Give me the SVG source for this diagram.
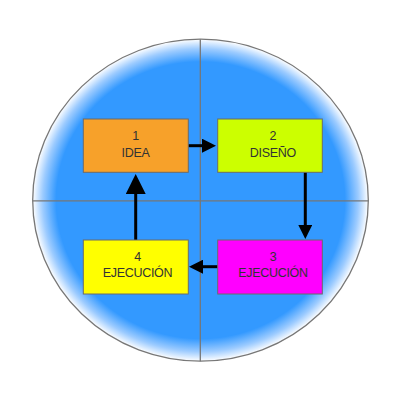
<svg xmlns="http://www.w3.org/2000/svg" width="400" height="400" viewBox="0 0 400 400">
  <defs>
    <radialGradient id="disc" cx="0.5" cy="0.5" r="0.5">
      <stop offset="0" stop-color="#3399ff"/>
      <stop offset="0.86" stop-color="#3399ff"/>
      <stop offset="0.94" stop-color="#9ccbff"/>
      <stop offset="1" stop-color="#ffffff"/>
    </radialGradient>
    <marker id="head" markerUnits="userSpaceOnUse" markerWidth="14" markerHeight="14" refX="1" refY="7" orient="auto" viewBox="0 0 14 14">
      <path d="M0,0 L14,7 L0,14 z" fill="#000"/>
    </marker>
    <marker id="headL" markerUnits="userSpaceOnUse" markerWidth="20" markerHeight="20" refX="1" refY="10" orient="auto" viewBox="0 0 20 20">
      <path d="M0,0 L20,10 L0,20 z" fill="#000"/>
    </marker>
    <style>
      .box { stroke: #6b6b6b; stroke-width: 1; }
      .lbl { font-family: "Liberation Sans", Arial, sans-serif; font-size: 12.5px; letter-spacing: -0.3px; fill: #333; text-anchor: middle; }
      .axis { stroke: #777; stroke-width: 1.3; fill: none; }
      .conn { stroke: #000; stroke-width: 3; fill: none; }
    </style>
  </defs>

  <rect width="400" height="400" fill="#ffffff"/>

  <g id="background">
    <ellipse cx="200.5" cy="200.2" rx="167.8" ry="161" fill="url(#disc)"/>
    <line class="axis" x1="200.3" y1="39.2" x2="200.3" y2="361.2"/>
    <line class="axis" x1="32.7" y1="200.8" x2="368.3" y2="200.8"/>
    <ellipse cx="200.5" cy="200.2" rx="167.8" ry="161" fill="none" stroke="#777" stroke-width="1.3"/>
  </g>

  <g id="connectors">
    <path class="conn" d="M188,145.7 H203" marker-end="url(#head)"/>
    <path class="conn" d="M305.3,172 V226" marker-end="url(#head)"/>
    <path class="conn" d="M218,266.7 H202" marker-end="url(#head)"/>
    <path class="conn" d="M135.7,240 V193" marker-end="url(#headL)"/>
  </g>

  <g id="node1">
    <rect class="box" x="83.3" y="119" width="105" height="53.3" fill="#f7a12a"/>
    <text class="lbl" x="135.5" y="140">1</text>
    <text class="lbl" x="135.5" y="157">IDEA</text>
  </g>
  <g id="node2">
    <rect class="box" x="217.7" y="119" width="104.6" height="53.3" fill="#ccff00"/>
    <text class="lbl" x="272.8" y="140">2</text>
    <text class="lbl" x="272.8" y="157">DISEÑO</text>
  </g>
  <g id="node3">
    <rect class="box" x="217.7" y="240" width="104.6" height="54" fill="#ff00ff"/>
    <text class="lbl" x="273" y="260.5">3</text>
    <text class="lbl" x="273" y="276.5">EJECUCIÓN</text>
  </g>
  <g id="node4">
    <rect class="box" x="83.3" y="240" width="105" height="54" fill="#ffff00"/>
    <text class="lbl" x="137.5" y="260.5">4</text>
    <text class="lbl" x="137.5" y="276.5">EJECUCIÓN</text>
  </g>
</svg>
